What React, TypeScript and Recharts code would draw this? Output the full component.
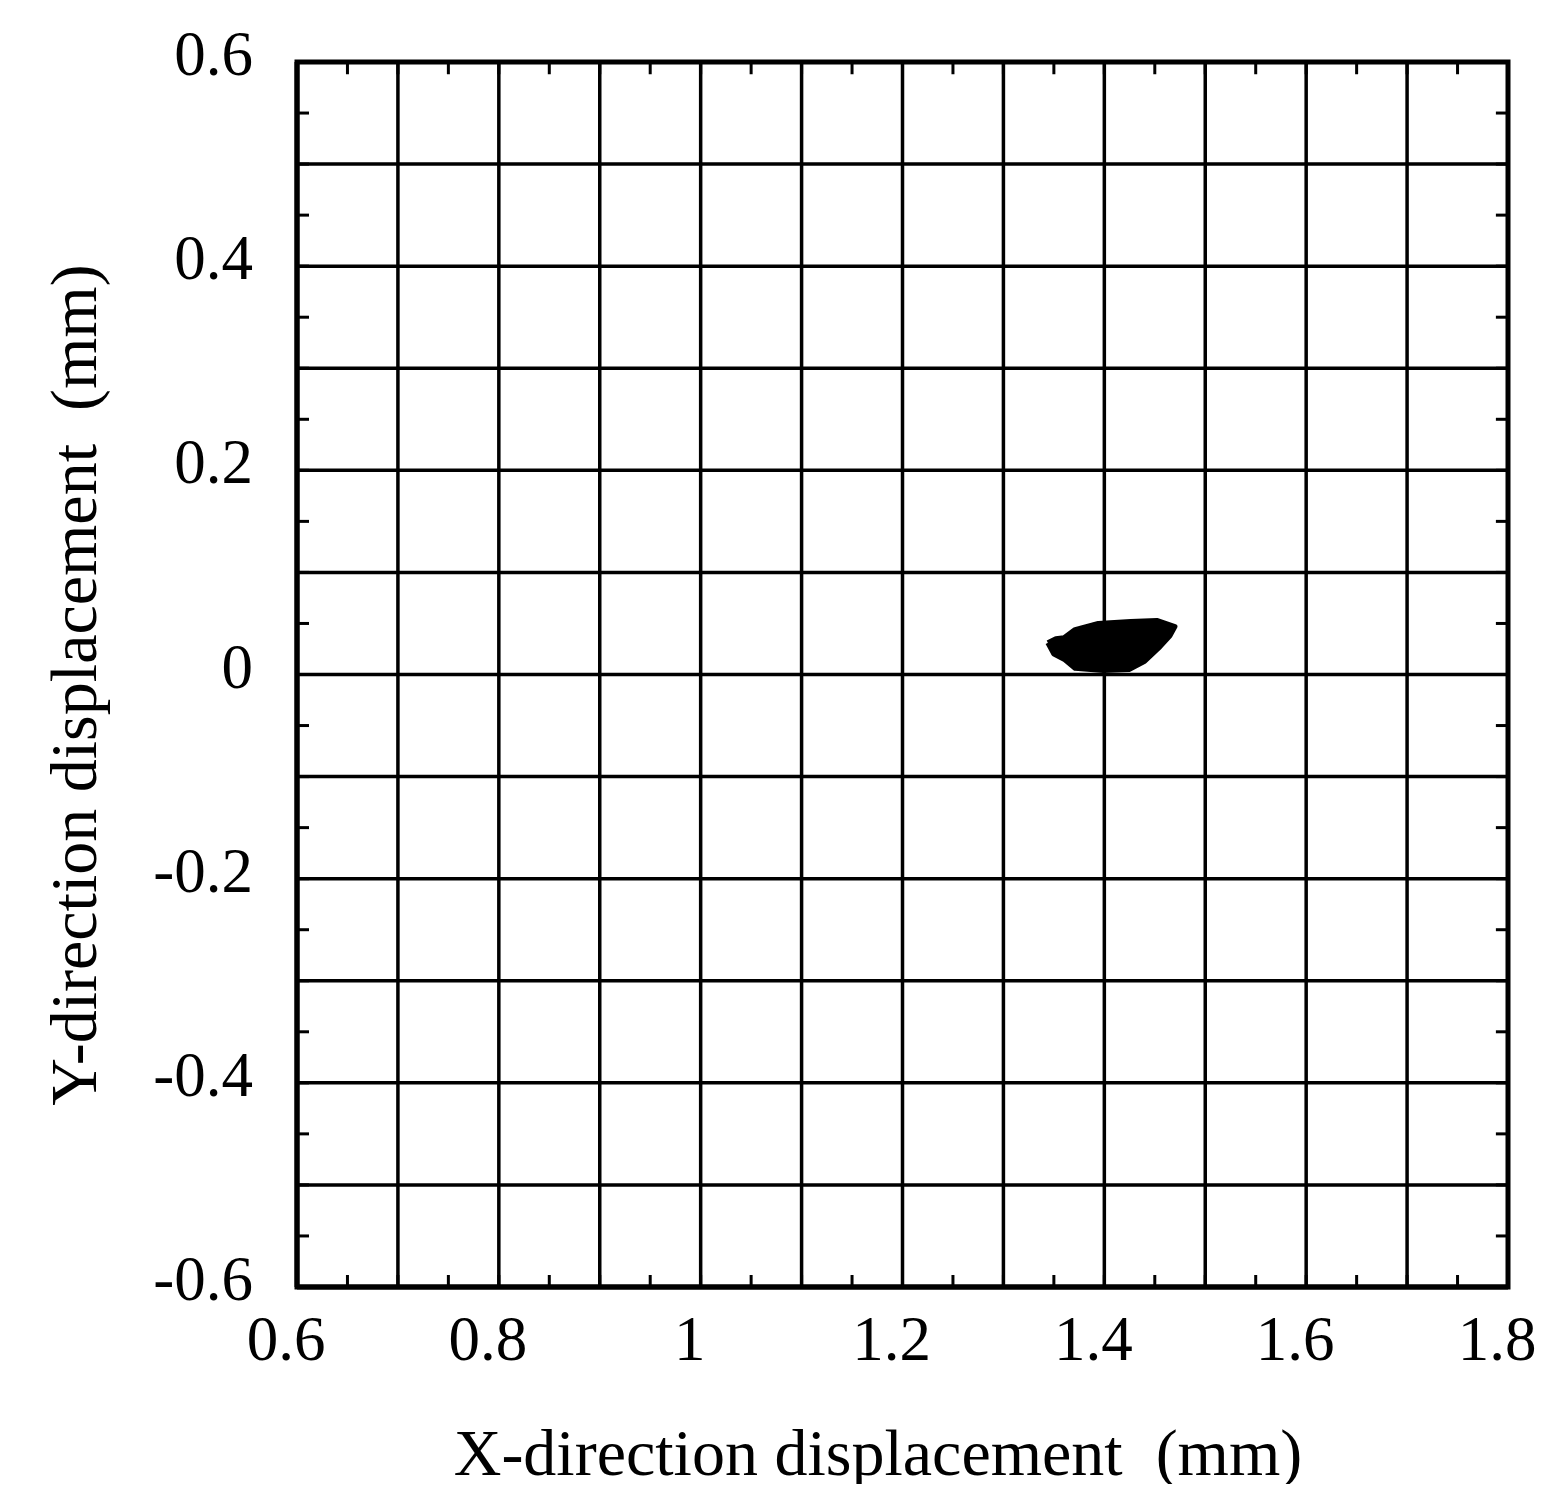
import React from "react";
import {
    ScatterChart,
    Scatter,
    XAxis,
    YAxis,
    CartesianGrid,
    ReferenceArea,
    ReferenceLine,
} from "recharts";

// axis ticks: every 0.05 (minor), grid every 0.1, labels every 0.2
const xTicks = [
    0.6, 0.65, 0.7, 0.75, 0.8, 0.85, 0.9, 0.95, 1.0, 1.05, 1.1, 1.15, 1.2,
    1.25, 1.3, 1.35, 1.4, 1.45, 1.5, 1.55, 1.6, 1.65, 1.7, 1.75, 1.8,
];
const yTicks = [
    -0.6, -0.55, -0.5, -0.45, -0.4, -0.35, -0.3, -0.25, -0.2, -0.15, -0.1,
    -0.05, 0, 0.05, 0.1, 0.15, 0.2, 0.25, 0.3, 0.35, 0.4, 0.45, 0.5, 0.55, 0.6,
];
const xGrid = [0.7, 0.8, 0.9, 1.0, 1.1, 1.2, 1.3, 1.4, 1.5, 1.6, 1.7];
const yGrid = [-0.5, -0.4, -0.3, -0.2, -0.1, 0, 0.1, 0.2, 0.3, 0.4, 0.5];
const xLabels = ["0.6", "0.8", "1", "1.2", "1.4", "1.6", "1.8"];
const yLabels = ["-0.6", "-0.4", "-0.2", "0", "0.2", "0.4", "0.6"];

// orbit of the shaft centre (x mm, y mm), traced loops
const orbitOuter = [
    [1.344, 0.031], [1.352, 0.035], [1.360, 0.036], [1.371, 0.044],
    [1.394, 0.050], [1.426, 0.052], [1.452, 0.053], [1.470, 0.047],
    [1.465, 0.038], [1.455, 0.027], [1.440, 0.013], [1.425, 0.005],
    [1.399, 0.004], [1.371, 0.006], [1.360, 0.015], [1.350, 0.020],
    [1.344, 0.031],
];
const orbitMid = [
    [1.365, 0.030], [1.380, 0.041], [1.405, 0.046], [1.435, 0.047],
    [1.453, 0.043], [1.447, 0.030], [1.434, 0.018], [1.414, 0.012],
    [1.390, 0.013], [1.372, 0.020], [1.365, 0.030],
];

const FONT = "'Liberation Serif', 'Times New Roman', serif";
// inner tick length in axis units (about 12px)
const TICK_X = 0.012;
const TICK_Y = 0.012;

const label = (labels: string[], v: number) => {
    const s = String(Number(Number(v).toFixed(2)));
    return labels.includes(s) ? s : "";
};

const toPts = (arr: number[][]) => arr.map(([x, y]) => ({ x, y }));

const XTick = (props: any) => {
    const { x, y, payload } = props;
    const s = label(xLabels, payload.value);
    if (!s) return null;
    return (
        <text x={x - 11} y={y + 85} textAnchor="middle" fill="#000" fontSize={63} fontFamily={FONT}>
            {s}
        </text>
    );
};

const YTick = (props: any) => {
    const { x, y, payload } = props;
    const s = label(yLabels, payload.value);
    if (!s) return null;
    return (
        <text x={x - 56} y={y + 13} textAnchor="end" fill="#000" fontSize={63} fontFamily={FONT}>
            {s}
        </text>
    );
};

const border = { stroke: "#000", strokeWidth: 5 };
const tickLn = { stroke: "#000", strokeWidth: 3 };

export default function App() {
    return (
        <div style={{ position: "relative", width: 1546, height: 1476 }}>
            <ScatterChart
                width={1546}
                height={1476}
                margin={{ top: 54, right: 46, bottom: 47, left: 0 }}
            >
                <CartesianGrid
                    horizontalValues={yGrid}
                    verticalValues={xGrid}
                    stroke="#000"
                    strokeWidth={3.5}
                    syncWithTicks={false}
                />
                <XAxis
                    type="number"
                    dataKey="x"
                    domain={[0.6, 1.8]}
                    ticks={xTicks}
                    interval={0}
                    tick={<XTick />}
                    tickSize={-12}
                    tickMargin={0}
                    height={150}
                    axisLine={border}
                    tickLine={tickLn}
                    allowDataOverflow
                />
                <YAxis
                    type="number"
                    dataKey="y"
                    domain={[-0.6, 0.6]}
                    ticks={yTicks}
                    interval={0}
                    tick={<YTick />}
                    tickSize={-12}
                    tickMargin={0}
                    width={289}
                    axisLine={border}
                    tickLine={tickLn}
                    allowDataOverflow
                />
                {/* inner ticks on the top and right frame */}
                {xTicks.map((v) => (
                    <ReferenceLine
                        key={`tx${v}`}
                        segment={[{ x: v, y: 0.6 }, { x: v, y: 0.6 - TICK_Y }]}
                        stroke="#000"
                        strokeWidth={3}
                        ifOverflow="visible"
                    />
                ))}
                {yTicks.map((v) => (
                    <ReferenceLine
                        key={`ty${v}`}
                        segment={[{ x: 1.8, y: v }, { x: 1.8 - TICK_X, y: v }]}
                        stroke="#000"
                        strokeWidth={3}
                        ifOverflow="visible"
                    />
                ))}
                <ReferenceArea
                    x1={0.6}
                    x2={1.8}
                    y1={-0.6}
                    y2={0.6}
                    fill="none"
                    stroke="#000"
                    strokeWidth={5}
                    ifOverflow="visible"
                />
                <Scatter
                    data={toPts(orbitOuter)}
                    line={{ stroke: "#000", strokeWidth: 5, strokeLinejoin: "round", fill: "#000" }}
                    shape={() => null}
                    isAnimationActive={false}
                />
                <Scatter
                    data={toPts(orbitMid)}
                    line={{ stroke: "#000", strokeWidth: 6, strokeLinejoin: "round" }}
                    shape={() => null}
                    isAnimationActive={false}
                />
            </ScatterChart>
            <div
                style={{
                    position: "absolute",
                    left: 0,
                    width: 1740,
                    textAlign: "center",
                    top: 1412,
                    fontFamily: FONT,
                    fontSize: 66,
                    whiteSpace: "pre",
                    lineHeight: 1,
                }}
            >
                {"X-direction displacement  (mm)"}
            </div>
            <div
                style={{
                    position: "absolute",
                    left: 66,
                    top: 677,
                    width: 0,
                    height: 0,
                }}
            >
                <div
                    style={{
                        position: "absolute",
                        transform: "translate(-50%, -50%) rotate(-90deg)",
                        fontFamily: FONT,
                        fontSize: 66,
                        whiteSpace: "pre",
                        lineHeight: 1,
                    }}
                >
                    {"Y-direction displacement  (mm)"}
                </div>
            </div>
        </div>
    );
}
